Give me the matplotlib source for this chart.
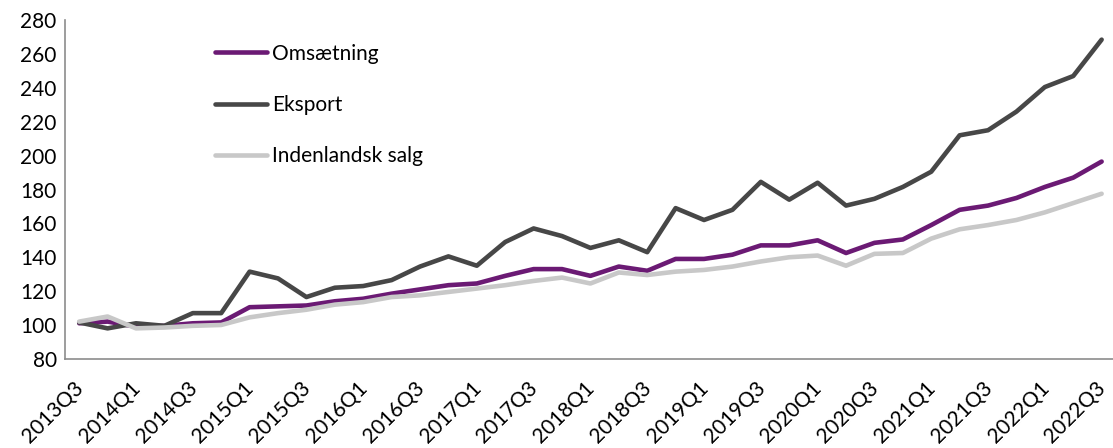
import matplotlib.pyplot as plt
import matplotlib.transforms as mtransforms

plt.rcParams["font.family"] = ["Lato", "DejaVu Sans"]

# quarters 2013Q3 .. 2022Q3
quarters = []
for year in range(2013, 2023):
    for q in range(1, 5):
        if (year == 2013 and q < 3) or (year == 2022 and q > 3):
            continue
        quarters.append(f"{year}Q{q}")

omsaetning = [101, 102, 99, 99.5, 101, 101.5, 110.5, 111, 111.5, 114, 115.5, 118.5,
              121, 123.5, 124.5, 129, 133, 133, 129, 134.5, 132, 139, 139, 141.5,
              147, 147, 150, 142.5, 148.5, 150.5, 159, 168, 170.5, 175, 181.5, 187, 196.5]
eksport = [101.5, 98, 101, 99.5, 107, 107, 131.5, 127.5, 116.5, 122, 123, 126.5,
           134.5, 140.5, 135, 149, 157, 152.5, 145.5, 150, 143, 169, 162, 168,
           184.5, 174, 184, 170.5, 174.5, 181.5, 190.5, 212, 215, 226, 240.5, 247, 268.5]
indenlandsk = [102, 105, 98, 98.5, 99.5, 100, 104.5, 107, 109, 112, 113.5, 116.5,
               117.5, 119.5, 121.5, 123.5, 126, 128, 124.5, 131, 129.5, 131.5, 132.5, 134.5,
               137.5, 140, 141, 135, 142, 142.5, 151, 156.5, 159, 162, 166.5, 172, 177.5]

x = list(range(len(quarters)))

fig = plt.figure(figsize=(11.13, 4.48), dpi=100)
ax = fig.add_axes([0.0584, 0.199, 0.9416, 0.756])

ax.plot(x, omsaetning, color="#6b1a74", lw=3.3, label="Omsætning", solid_capstyle="round")
ax.plot(x, eksport, color="#474747", lw=3.3, label="Eksport", solid_capstyle="round")
ax.plot(x, indenlandsk, color="#c8c8c8", lw=3.3, label="Indenlandsk salg", solid_capstyle="round")

ax.set_ylim(80, 280)
ax.set_yticks(range(80, 281, 20))
ax.set_xlim(-0.5, 36.4)
ax.set_xticks(x[::2])
ax.set_xticklabels(quarters[::2], rotation=45, ha="right", rotation_mode="anchor")

for s in ["top", "right"]:
    ax.spines[s].set_visible(False)
for s in ["left", "bottom"]:
    ax.spines[s].set_color("#8c8c8c")
    ax.spines[s].set_linewidth(1.2)
ax.tick_params(length=0, labelsize=15, colors="#000000", pad=6)
ax.tick_params(axis="x", pad=14)

# nudge the rotated labels a little to the left (after tick_params, which resets transforms)
shift = mtransforms.ScaledTranslation(-6 / 100, 0, fig.dpi_scale_trans)
for lbl in ax.get_xticklabels():
    lbl.set_transform(lbl.get_transform() + shift)

ax.legend(loc="upper left", bbox_to_anchor=(0.125, 0.986), frameon=False,
          fontsize=15, labelspacing=1.5, handlelength=2.5, handletextpad=0.25)

fig.savefig("out.png", dpi=100)
